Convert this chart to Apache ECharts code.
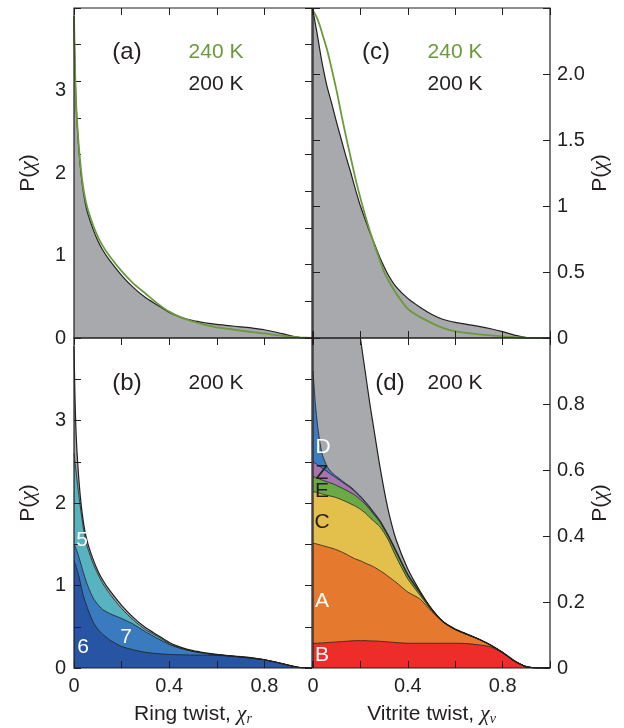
<!DOCTYPE html>
<html>
<head>
<meta charset="utf-8">
<script src="https://cdn.jsdelivr.net/npm/echarts@6/dist/echarts.min.js"></script>
<style>
  html, body { margin: 0; padding: 0; background: #fff; }
  #main { width: 624px; height: 728px; }
</style>
</head>
<body>
<div id="main"></div>
<script>
// ring twist, panels (a) and (b)
const ringX   = [0, 0.004, 0.008, 0.012, 0.02, 0.03, 0.04, 0.05, 0.06, 0.08, 0.1, 0.12, 0.15, 0.2, 0.25, 0.3, 0.35, 0.4, 0.45, 0.5, 0.55, 0.6, 0.65, 0.7, 0.75, 0.8, 0.85, 0.9, 0.95, 1.0];
const ring200 = [3.9, 3.3, 2.9, 2.65, 2.3, 1.98, 1.76, 1.6, 1.49, 1.32, 1.18, 1.07, 0.94, 0.76, 0.61, 0.49, 0.40, 0.31, 0.25, 0.21, 0.185, 0.165, 0.15, 0.135, 0.12, 0.1, 0.07, 0.035, 0.005, 0];
const ring240 = [3.9, 3.3, 2.9, 2.67, 2.33, 2.02, 1.8, 1.65, 1.54, 1.37, 1.23, 1.12, 0.99, 0.81, 0.66, 0.54, 0.42, 0.32, 0.25, 0.2, 0.16, 0.13, 0.11, 0.09, 0.07, 0.055, 0.035, 0.02, 0.008, 0];
// cumulative ring-size contributions at 200 K (5+6+7, 6+7, 6)
const ring567 = [2.6, 2.5, 2.4, 2.3, 2.1, 1.88, 1.68, 1.53, 1.43, 1.27, 1.14, 1.03, 0.9, 0.72, 0.58, 0.465, 0.385, 0.295, 0.24, 0.203, 0.18, 0.16, 0.148, 0.133, 0.118, 0.1, 0.07, 0.035, 0.005, 0];
const ring67  = [1.5, 1.48, 1.45, 1.42, 1.35, 1.25, 1.15, 1.06, 0.98, 0.85, 0.77, 0.71, 0.66, 0.6, 0.53, 0.44, 0.36, 0.285, 0.235, 0.2, 0.176, 0.158, 0.147, 0.133, 0.118, 0.1, 0.07, 0.035, 0.005, 0];
const ring6   = [1.3, 1.27, 1.24, 1.2, 1.12, 0.99, 0.87, 0.78, 0.7, 0.56, 0.47, 0.41, 0.34, 0.26, 0.22, 0.19, 0.175, 0.165, 0.16, 0.157, 0.155, 0.152, 0.148, 0.14, 0.125, 0.1, 0.07, 0.035, 0.005, 0];

// vitrite twist, panels (c) and (d)
const vitX   = [0, 0.01, 0.02, 0.03, 0.04, 0.06, 0.08, 0.1, 0.12, 0.14, 0.16, 0.18, 0.2, 0.22, 0.24, 0.26, 0.28, 0.3, 0.32, 0.35, 0.4, 0.45, 0.5, 0.55, 0.6, 0.65, 0.7, 0.75, 0.8, 0.85, 0.9, 0.95, 1.0];
const vit200 = [2.48, 2.38, 2.28, 2.17, 2.07, 1.9, 1.77, 1.63, 1.5, 1.37, 1.25, 1.12, 1.0, 0.9, 0.8, 0.71, 0.62, 0.54, 0.47, 0.39, 0.3, 0.235, 0.18, 0.14, 0.118, 0.103, 0.088, 0.07, 0.048, 0.022, 0.004, 0, 0];
const vit240 = [2.48, 2.45, 2.41, 2.36, 2.3, 2.18, 2.03, 1.87, 1.69, 1.52, 1.36, 1.2, 1.06, 0.93, 0.81, 0.7, 0.6, 0.5, 0.43, 0.34, 0.22, 0.16, 0.115, 0.075, 0.05, 0.038, 0.028, 0.02, 0.012, 0.006, 0.002, 0, 0];
// cumulative tops of the (d) layers: B, +A, +C, +E, +Z, +D
const topB = [0.075, 0.075, 0.075, 0.076, 0.076, 0.077, 0.078, 0.079, 0.08, 0.081, 0.082, 0.083, 0.083, 0.083, 0.082, 0.082, 0.081, 0.08, 0.079, 0.077, 0.075, 0.075, 0.075, 0.075, 0.075, 0.074, 0.07, 0.064, 0.045, 0.02, 0.003, 0, 0];
const topA = [0.378, 0.377, 0.375, 0.373, 0.371, 0.367, 0.363, 0.358, 0.352, 0.345, 0.337, 0.33, 0.325, 0.318, 0.312, 0.305, 0.296, 0.287, 0.276, 0.26, 0.23, 0.21, 0.172, 0.138, 0.116, 0.101, 0.087, 0.069, 0.047, 0.021, 0.004, 0, 0];
const topC = [0.534, 0.533, 0.531, 0.529, 0.527, 0.523, 0.52, 0.516, 0.51, 0.504, 0.497, 0.49, 0.481, 0.47, 0.456, 0.443, 0.43, 0.41, 0.385, 0.338, 0.27, 0.222, 0.175, 0.139, 0.117, 0.102, 0.087, 0.069, 0.047, 0.021, 0.004, 0, 0];
const topE = [0.58, 0.578, 0.575, 0.572, 0.569, 0.564, 0.559, 0.553, 0.546, 0.539, 0.531, 0.522, 0.51, 0.497, 0.48, 0.462, 0.445, 0.42, 0.395, 0.352, 0.28, 0.228, 0.178, 0.14, 0.117, 0.102, 0.087, 0.069, 0.047, 0.021, 0.004, 0, 0];
const topZ = [0.625, 0.62, 0.615, 0.61, 0.605, 0.595, 0.585, 0.575, 0.565, 0.555, 0.545, 0.532, 0.518, 0.502, 0.485, 0.466, 0.448, 0.424, 0.398, 0.355, 0.283, 0.23, 0.179, 0.14, 0.117, 0.102, 0.087, 0.069, 0.047, 0.021, 0.004, 0, 0];
const topD = [0.9, 0.8, 0.73, 0.68, 0.645, 0.61, 0.592, 0.58, 0.569, 0.558, 0.548, 0.535, 0.521, 0.505, 0.488, 0.469, 0.45, 0.426, 0.4, 0.357, 0.285, 0.232, 0.18, 0.14, 0.117, 0.102, 0.087, 0.069, 0.047, 0.021, 0.004, 0, 0];

// tick labels
const xLabels  = ['0', '0.4', '0.8'];
const ringYLabels = ['0', '1', '2', '3'];
const vitCLabels = ['0', '0.5', '1', '1.5', '2.0'];
const vitDLabels = ['0', '0.2', '0.4', '0.6', '0.8'];

const INK = '#231f20';
const GREEN = '#6a9a3c';
const GRAY = '#a7a9ac';
const FONT = 'Liberation Sans';

function pts(xs, ys) {
  return xs.map((x, i) => [x, ys[i]]);
}

function pick(labels, step) {
  return function (v) {
    const k = Math.round(v / step);
    return (Math.abs(k * step - v) < 1e-6 && k < labels.length) ? labels[k] : '';
  };
}

const richName = {
  i: {fontSize: 22, fontFamily: 'Liberation Serif', fontStyle: 'italic', color: INK, lineHeight: 24},
  s: {fontSize: 14, fontFamily: 'Liberation Serif', fontStyle: 'italic', color: INK, lineHeight: 12, verticalAlign: 'bottom'}
};
const nameStyle = {fontSize: 21, fontFamily: FONT, color: INK, lineHeight: 24, rich: richName};
const labelStyle = {color: INK, fontSize: 20, fontFamily: FONT};

function grid(left, top, width) {
  return {left: left, top: top, width: width, height: 330, show: true,
    borderColor: INK, borderWidth: 1.2, backgroundColor: 'transparent', z: 10};
}

function xAx(g, pos, extra) {
  return Object.assign({
    type: 'value', gridIndex: g, position: pos, min: 0, max: 1, interval: 0.2,
    axisLine: {show: false, onZero: false},
    axisTick: {inside: true, length: 7, lineStyle: {color: INK, width: 1}},
    axisLabel: {show: false}, splitLine: {show: false}
  }, extra);
}

function yAx(g, pos, max, interval, extra) {
  return Object.assign({
    type: 'value', gridIndex: g, position: pos, min: 0, max: max, interval: interval,
    axisLine: {show: false, onZero: false},
    axisTick: {inside: true, length: 7, lineStyle: {color: INK, width: 1}},
    axisLabel: {show: false}, splitLine: {show: false}
  }, extra);
}

function area(xs, ys, xi, yi, fill, lw) {
  return {
    type: 'line', xAxisIndex: xi, yAxisIndex: yi, data: pts(xs, ys),
    symbol: 'none', smooth: 0.2, silent: true,
    lineStyle: {color: INK, width: lw},
    areaStyle: {color: fill, opacity: 1}
  };
}

function line(xs, ys, xi, yi, color) {
  return {
    type: 'line', xAxisIndex: xi, yAxisIndex: yi, data: pts(xs, ys),
    symbol: 'none', smooth: 0.2, silent: true,
    lineStyle: {color: color, width: 1.8}
  };
}

function txt(x, y, s, color, size) {
  return {type: 'text', x: x, y: y, z: 30, silent: true,
    style: {text: s, fill: color, font: (size || 21) + 'px "Liberation Sans"', align: 'center', verticalAlign: 'middle'}};
}

const xBottomLabels = {show: true, margin: 8, ...labelStyle, formatter: pick(xLabels, 0.4)};
const over = {z: 10};

const option = {
  animation: false,
  backgroundColor: '#fff',
  grid: [grid(74, 8, 238), grid(313, 8, 237), grid(74, 338, 238), grid(313, 338, 237)],
  xAxis: [
    xAx(0, 'bottom'),
    xAx(0, 'top'),
    xAx(1, 'bottom', over),
    xAx(1, 'top', over),
    xAx(2, 'bottom', Object.assign({axisLabel: xBottomLabels, name: 'Ring twist, {i|χ}{s|r}',
      nameLocation: 'middle', nameGap: 34, nameTextStyle: nameStyle}, over)),
    xAx(2, 'top', over),
    xAx(3, 'bottom', Object.assign({axisLabel: xBottomLabels, name: 'Vitrite twist, {i|χ}{s|v}',
      nameLocation: 'middle', nameGap: 34, nameTextStyle: nameStyle}, over)),
    xAx(3, 'top', over)
  ],
  yAxis: [
    yAx(0, 'left', 4, 1, {axisTick: {show: false},
      axisLabel: {show: true, margin: 8, ...labelStyle, formatter: pick(ringYLabels, 1)},
      name: 'P({i|χ})', nameLocation: 'middle', nameRotate: 90, nameGap: 34, nameTextStyle: nameStyle}),
    yAx(0, 'left', 9, 1),
    yAx(0, 'right', 9, 1),
    yAx(1, 'left', 2.5, 0.5, over),
    yAx(1, 'right', 2.5, 0.5, Object.assign({
      axisLabel: {show: true, margin: 7, ...labelStyle, formatter: pick(vitCLabels, 0.5)},
      name: 'P({i|χ})', nameLocation: 'middle', nameRotate: 90, nameGap: 38, nameTextStyle: nameStyle}, over)),
    yAx(2, 'left', 4, 0.5, Object.assign({
      axisLabel: {show: true, margin: 8, ...labelStyle, formatter: v => (v % 1 === 0 && v <= 3) ? ringYLabels[v] : ''},
      name: 'P({i|χ})', nameLocation: 'middle', nameRotate: 90, nameGap: 34, nameTextStyle: nameStyle}, over)),
    yAx(2, 'right', 4, 0.5, over),
    yAx(3, 'left', 1, 0.2, {axisTick: {show: false}}),
    yAx(3, 'right', 1, 0.2, Object.assign({
      axisLabel: {show: true, margin: 7, ...labelStyle, formatter: pick(vitDLabels, 0.2)},
      name: 'P({i|χ})', nameLocation: 'middle', nameRotate: 90, nameGap: 38, nameTextStyle: nameStyle}, over))
  ],
  series: [
    // (a)
    area(ringX, ring200, 0, 0, GRAY, 1.2),
    line(ringX, ring240, 0, 0, GREEN),
    // (c)
    area(vitX, vit200, 2, 4, GRAY, 1.2),
    line(vitX, vit240, 2, 4, GREEN),
    // (b)
    area(ringX, ring200, 4, 5, GRAY, 1.2),
    area(ringX, ring567, 4, 5, '#56b3bf', 0.8),
    area(ringX, ring67, 4, 5, '#3a7bbf', 0.8),
    area(ringX, ring6, 4, 5, '#2754a3', 0.8),
    // (d)
    area(vitX, vit200, 6, 8, GRAY, 1.2),
    area(vitX, topD, 6, 8, '#3a7dc2', 0.8),
    area(vitX, topZ, 6, 8, '#a575ad', 0.8),
    area(vitX, topE, 6, 8, '#6aaa46', 0.8),
    area(vitX, topC, 6, 8, '#e2c04b', 0.8),
    area(vitX, topA, 6, 8, '#e57a2f', 0.8),
    area(vitX, topB, 6, 8, '#ee2d2a', 0.8)
  ],
  graphic: [
    txt(127, 52, '(a)', INK, 24), txt(216, 52, '240 K', GREEN), txt(216, 84, '200 K', INK),
    txt(376, 52, '(c)', INK, 24), txt(455, 52, '240 K', GREEN), txt(455, 84, '200 K', INK),
    txt(127, 383, '(b)', INK, 24), txt(216, 383, '200 K', INK),
    txt(390, 383, '(d)', INK, 24), txt(455, 383, '200 K', INK),
    txt(82, 540, '5', '#fff'), txt(83, 647, '6', '#fff'), txt(126, 637, '7', '#fff'),
    txt(323, 447, 'D', '#fff'), txt(322, 473, 'Z', INK), txt(322, 491, 'E', INK),
    txt(322, 522, 'C', INK), txt(322, 601, 'A', '#fff'), txt(322, 655, 'B', '#fff')
  ]
};

echarts.init(document.getElementById('main')).setOption(option);
</script>
</body>
</html>
